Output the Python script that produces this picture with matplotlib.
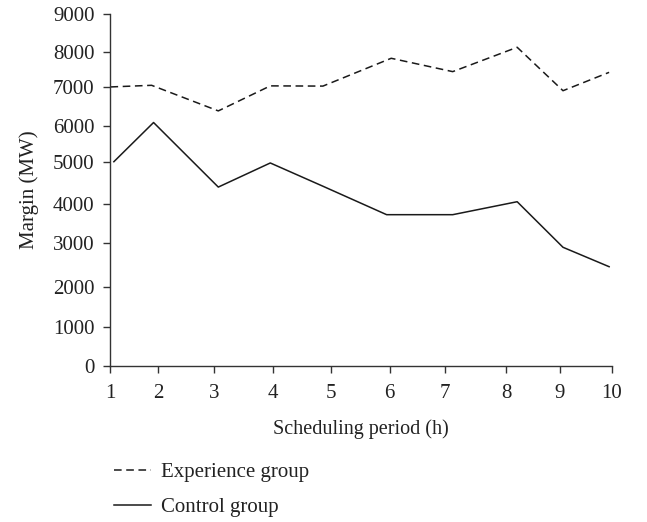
import numpy as np
import matplotlib
matplotlib.use('Agg')
import matplotlib.pyplot as plt

# Data
periods = [1, 2, 3, 4, 5, 6, 7, 8, 9, 10]
margins = [0, 1000, 2000, 3000, 4000, 5000, 6000, 7000, 8000, 9000]

exp_x = [1.01, 1.86, 3.07, 3.96, 4.86, 6.03, 7.13, 8.20, 9.06, 9.95]
exp_y = [7010, 7056, 6390, 7040, 7034, 7815, 7440, 8118, 6912, 7420]

ctrl_x = [1.08, 1.90, 3.07, 3.96, 4.86, 5.95, 7.13, 8.20, 9.06, 9.95]
ctrl_y = [5000, 6090, 4400, 4970, 4420, 3724, 3724, 4054, 2897, 2462]

# The original axes are hand-drawn: ticks are not evenly spaced.
# Keep that look with a piecewise linear scale.
x_tick_px = [111, 159.3, 215, 273.3, 331.7, 390, 445, 506.7, 560, 611.7]
y_tick_px = [366, 326.7, 287.3, 242.7, 204, 161.7, 126, 87.3, 51.7, 14.3]


def _piecewise(vals, pos):
    vals = np.asarray(vals, float)
    pos = np.asarray(pos, float)
    # extend both ends linearly so the mapping stays monotonic
    v = np.concatenate(([vals[0] - 1000 * (vals[1] - vals[0])], vals,
                        [vals[-1] + 1000 * (vals[-1] - vals[-2])]))
    p = np.concatenate(([pos[0] - 1000 * (pos[1] - pos[0])], pos,
                        [pos[-1] + 1000 * (pos[-1] - pos[-2])]))
    if p[0] > p[-1]:
        p = -p
    fwd = lambda a: np.interp(a, v, p)
    inv = lambda a: np.interp(a, p, v)
    return fwd, inv


plt.rcParams['font.family'] = ['Liberation Serif', 'DejaVu Serif']

fig = plt.figure(figsize=(6.47, 5.22), dpi=100)
ax = fig.add_axes([110 / 647, 1 - 366 / 522, (611.7 - 110) / 647, (366 - 14.3) / 522])

ax.set_xscale('function', functions=_piecewise(periods, x_tick_px))
ax.set_yscale('function', functions=_piecewise(margins, y_tick_px))

col = '#1a1a1a'
l1, = ax.plot(exp_x, exp_y, color=col, lw=1.1, ls=(0, (5, 3)))
l2, = ax.plot(ctrl_x, ctrl_y, color=col, lw=1.1)

ax.set_xlim(1, 10)
ax.set_ylim(0, 9000)
ax.set_xticks(periods)
ax.set_xticklabels([str(p) for p in periods])
ax.set_yticks(margins)
ax.set_yticklabels([str(m) for m in margins])
ax.minorticks_off()

for s in ['top', 'right']:
    ax.spines[s].set_visible(False)
for s in ['left', 'bottom']:
    ax.spines[s].set_color('#333333')
    ax.spines[s].set_linewidth(1.0)
ax.tick_params(direction='out', length=5, width=1.0, color='#333333',
               labelsize=15, labelcolor='#222222')
ax.tick_params(axis='x', pad=8)
ax.tick_params(axis='y', pad=6)

ax.set_xlabel('Scheduling period (h)', fontsize=14.5, color='#222222', labelpad=12)
ax.set_ylabel('Margin (MW)', fontsize=15, color='#222222', labelpad=10)

fig.legend([l1, l2], ['Experience group', 'Control group'],
           loc='upper left', bbox_to_anchor=(95 / 647, 1 - 444 / 522),
           frameon=False, fontsize=15, handlelength=1.8, handletextpad=0.45,
           labelspacing=0.72, labelcolor='#222222')

fig.savefig('out.png', dpi=100)
